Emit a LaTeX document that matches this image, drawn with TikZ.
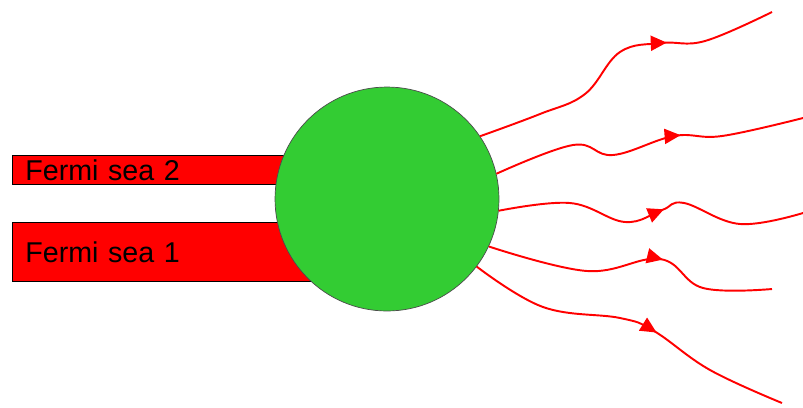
\documentclass[tikz,border=0pt]{standalone}
\usepackage{fontspec}
\setmainfont{Liberation Sans}
\usetikzlibrary{arrows.meta, decorations.markings, positioning}
\definecolor{seaRed}{HTML}{FF0000}
\definecolor{dotGreen}{HTML}{33CC33}
\tikzset{
  seabox/.style    = {draw=black, line width=0.4pt, fill=seaRed, anchor=north west,
                      inner xsep=0.26cm, inner ysep=0pt, align=left,
                      font=\fontsize{16.3}{19}\selectfont},
  scatterer/.style = {circle, draw=black!70, line width=0.4pt, fill=dotGreen,
                      minimum size=4.48cm, inner sep=0pt},
  outwire/.style   = {seaRed, line width=1.1pt,
                      decoration={markings,
                        mark=at position #1 with {\arrow{Triangle[length=3.2mm,width=3mm]}}},
                      postaction={decorate}},
}
\begin{document}
\begin{tikzpicture}[x=0.02cm, y=-0.02cm]
  \useasboundingbox (0,0) rectangle (803,407);
  % reservoirs
  \node[seabox, minimum height=0.58cm, text width=5.84cm] (sea2) at (12,155) {Fermi sea 2};
  \node[seabox, minimum height=1.18cm, text width=5.84cm] (sea1) at (12,222) {Fermi sea 1};
  % scattering region
  \node[scatterer] (scat) at (387,199) {};
  % outgoing channels
  \draw[outwire=0.66] plot[smooth, tension=0.65] coordinates
    {(scat.34) (540,114) (585,94) (620,52) (662,43) (705,41) (772,12)};
  \draw[outwire=0.61] plot[smooth, tension=0.65] coordinates
    {(scat.13) (573,145) (613,155) (674,136) (722,136) (803,118)};
  \draw[outwire=0.54] plot[smooth, tension=0.65] coordinates
    {(scat.-6) (570,203) (625,222) (662,210) (684,203) (740,224) (803,213)};
  \draw[outwire=0.6] plot[smooth, tension=0.65] coordinates
    {(scat.-25) (587,271) (660,259) (703,288) (772,289)};
  \draw[outwire=0.575] plot[smooth, tension=0.65] coordinates
    {(scat.-37) (543,307) (620,318) (654,331) (710,370) (782,403)};
\end{tikzpicture}
\end{document}
